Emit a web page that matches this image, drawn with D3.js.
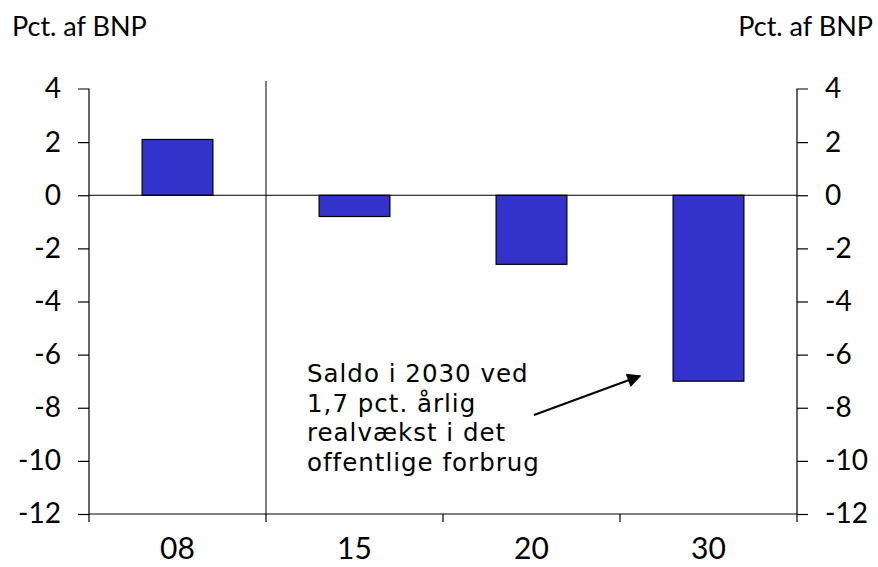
<!DOCTYPE html>
<html><head><meta charset="utf-8">
<script src="https://cdn.jsdelivr.net/npm/d3@7"></script>
<style>body{margin:0;background:#fff}svg{display:block}</style>
</head><body>
<svg id="c" width="878" height="567"></svg>
<script>
const categories = ["08","15","20","30"];
const values = [2.1,-0.8,-2.6,-7.0];
const yTicks = [4,2,0,-2,-4,-6,-8,-10,-12];
const axisTitle = "Pct. af BNP";
const noteLines = ["Saldo i 2030 ved","1,7 pct. årlig","realvækst i det","offentlige forbrug"];

const svg = d3.select("#c");
const L = 89, R = 797, T = 89, B = 514;
const xb = d3.scaleBand().domain(categories).range([L,R]);
const y = d3.scaleLinear().domain([-12,4]).range([B,T]);
const font = "Lato, 'Open Sans', sans-serif";
const fmt = d => String(d);

// bars
svg.selectAll("rect.bar").data(values).enter().append("rect")
  .attr("x",(d,i)=>xb(categories[i]) + xb.bandwidth()*0.3)
  .attr("width", xb.bandwidth()*0.4)
  .attr("y", d=>y(Math.max(0,d)))
  .attr("height", d=>Math.abs(y(d)-y(0)))
  .attr("fill","#3333cc").attr("stroke","#000").attr("stroke-width",1.2);

// zero line
svg.append("line").attr("x1",L).attr("x2",R).attr("y1",y(0)).attr("y2",y(0)).attr("stroke","#000").attr("stroke-width",1.2);
// divider
svg.append("line").attr("x1",xb("15")).attr("x2",xb("15")).attr("y1",81).attr("y2",B).attr("stroke","#000").attr("stroke-width",1);

// side axes
const la = svg.append("g").attr("transform",`translate(${L},0)`)
  .call(d3.axisLeft(y).tickValues(yTicks).tickSize(11).tickPadding(17).tickFormat(fmt));
const ra = svg.append("g").attr("transform",`translate(${R},0)`)
  .call(d3.axisRight(y).tickValues(yTicks).tickSize(11).tickPadding(17).tickFormat(fmt));
[la,ra].forEach(g=>{
  g.select(".domain").attr("d", g===la ? `M-11,${T}H0V${B}` : `M11,${T}H0V${B}`).attr("stroke","#000").attr("stroke-width",1.2);
  g.selectAll("text").attr("font-family",font).attr("font-size",28).attr("fill","#000");
  g.selectAll("line").attr("stroke","#000").attr("stroke-width",1.2);
  g.selectAll(".tick").filter(d=>d===4).select("line").remove();
});

// bottom axis
svg.append("line").attr("x1",L).attr("x2",R).attr("y1",B).attr("y2",B).attr("stroke","#000").attr("stroke-width",1.2);
const bounds = categories.map(c=>xb(c)).concat([R]);
svg.selectAll("line.bt").data(bounds).enter().append("line")
  .attr("x1",d=>d).attr("x2",d=>d).attr("y1",B).attr("y2",B+8).attr("stroke","#000").attr("stroke-width",1.2);
svg.selectAll("text.xl").data(categories).enter().append("text")
  .attr("x",d=>xb(d)+xb.bandwidth()/2).attr("y",559)
  .attr("text-anchor","middle").attr("font-family",font).attr("font-size",30).text(d=>d);

// titles
svg.append("text").attr("x",12).attr("y",36).attr("font-family",font).attr("font-size",27).text(axisTitle);
svg.append("text").attr("x",873).attr("y",36).attr("text-anchor","end").attr("font-family",font).attr("font-size",27).text(axisTitle);

// note
const nt = svg.append("text").attr("font-family","'DejaVu Sans', Verdana, sans-serif").attr("font-size",24.5)
  .attr("letter-spacing",1).attr("fill","#000");
noteLines.forEach((t,i)=>nt.append("tspan").attr("x",307).attr("y",382+i*29.5).text(t));

// arrow
svg.append("defs").append("marker").attr("id","ah").attr("viewBox","0 0 10 10").attr("refX",9).attr("refY",5)
  .attr("markerWidth",18).attr("markerHeight",14).attr("markerUnits","userSpaceOnUse").attr("orient","auto")
  .append("path").attr("d","M0,0L10,5L0,10z").attr("fill","#000");
svg.append("line").attr("x1",534).attr("y1",415).attr("x2",640).attr("y2",376)
  .attr("stroke","#000").attr("stroke-width",2).attr("marker-end","url(#ah)");
</script>
</body></html>
